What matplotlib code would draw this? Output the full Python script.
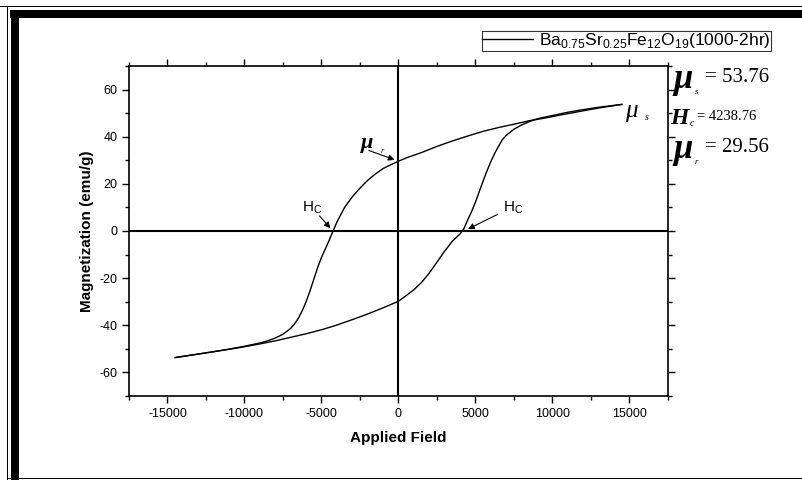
import matplotlib.pyplot as plt
from matplotlib.patches import Rectangle
from matplotlib.ticker import MultipleLocator

# upper branch: field sweeping down from +max
field_down = [14500, 13500, 12500, 11500, 10500, 9500, 8500, 7500, 6500, 5500,
              4500, 3500, 2500, 1500, 500, 0, -500, -1000, -1500, -2000,
              -2500, -3000, -3500, -4000, -4250, -4500, -4750, -5000, -5250, -5500,
              -5750, -6000, -6250, -6500, -6750, -7000, -7500, -8000, -8500, -9000,
              -10000, -11000, -12000, -13000, -14500]
mag_down = [53.7, 52.7, 51.6, 50.4, 49.2, 47.9, 46.8, 45.3, 43.9, 42.3,
            40.3, 38.2, 35.9, 33.3, 31.0, 29.6, 28.1, 26.5, 24.2, 21.5,
            18.2, 14.5, 10.0, 3.8, 0.0, -3.9, -7.6, -11.2, -15.5, -20.5,
            -25.5, -30.0, -33.8, -37.0, -39.4, -41.3, -43.8, -45.4, -46.6, -47.5,
            -48.9, -50.1, -51.2, -52.2, -53.7]

# lower branch: field sweeping up from -max
field_up = [-14500, -13000, -12000, -11000, -10000, -9000, -8000, -7000, -6000, -5000,
            -4000, -3000, -2000, -1000, 0, 500, 1000, 1500, 2000, 2500,
            3000, 3500, 4000, 4250, 4500, 4750, 5000, 5250, 5500, 5750,
            6000, 6250, 6500, 6750, 7000, 7500, 8000, 8500, 9000, 10000,
            11000, 12000, 13000, 14500]
mag_up = [-53.7, -52.2, -51.2, -50.2, -49.1, -47.9, -46.6, -45.1, -43.6, -41.9,
          -39.9, -37.6, -35.2, -32.6, -29.8, -27.4, -24.9, -21.8, -17.8, -13.2,
          -8.5, -4.3, -1.2, 1.0, 4.8, 8.3, 12.3, 16.8, 21.3, 25.6,
          29.5, 33.0, 36.0, 38.8, 40.6, 43.2, 45.0, 46.4, 47.6, 49.0,
          50.4, 51.5, 52.5, 53.7]

legend_label = r"Ba$_{0.75}$Sr$_{0.25}$Fe$_{12}$O$_{19}$(1000-2hr)"
ms_value = "= 53.76"
hc_value = "= 4238.76"
mr_value = "= 29.56"

plt.rcParams["font.family"] = ["Liberation Sans", "DejaVu Sans"]
plt.rcParams["mathtext.fontset"] = "custom"
plt.rcParams["mathtext.rm"] = "Liberation Sans"
plt.rcParams["axes.unicode_minus"] = False

W, H = 803, 480
fig = plt.figure(figsize=(W / 100, H / 100), dpi=100)


def fx(x):
    return x / W


def fy(y):
    return 1 - y / H


# page frame
for x0, y0, w, h in [(0, 6, W, 1.3), (10, 10, W - 10, 7.5), (7, 6, 1.3, H - 6),
                     (11, 10, 8, H - 10), (7, 477.5, W - 7, 1.5)]:
    fig.add_artist(Rectangle((fx(x0), fy(y0 + h)), w / W, h / H,
                             transform=fig.transFigure, color="black", lw=0))

ax = fig.add_axes([fx(129), fy(396), (668 - 129) / W, (396 - 66) / H])
ax.plot(field_down, mag_down, color="black", lw=1.0, label=legend_label)
ax.plot(field_up, mag_up, color="black", lw=1.0)
ax.axhline(0, color="black", lw=1.5)
ax.axvline(0, color="black", lw=1.5)

ax.set_xlim(-17500, 17500)
ax.set_ylim(-70, 70)
ax.xaxis.set_major_locator(MultipleLocator(5000))
ax.xaxis.set_minor_locator(MultipleLocator(2500))
ax.yaxis.set_major_locator(MultipleLocator(20))
ax.yaxis.set_minor_locator(MultipleLocator(10))
ax.tick_params(which="both", direction="out", top=True, right=True, width=1.0,
               labelsize=9)
ax.tick_params(which="major", length=5)
ax.tick_params(which="minor", length=3)
for s in ax.spines.values():
    s.set_linewidth(1.2)

ax.set_xlabel("Applied Field", fontsize=11, fontweight="bold", labelpad=8)
ax.set_ylabel("Magnetization (emu/g)", fontsize=11, fontweight="bold", labelpad=4)

leg = fig.legend(loc="center", bbox_to_anchor=(fx(626.5), fy(41)), fontsize=12.5,
                 frameon=True, fancybox=False, handlelength=2.9, borderpad=0.05,
                 handletextpad=0.35, borderaxespad=0)
leg.get_frame().set_edgecolor("black")
leg.get_frame().set_linewidth(0.8)

arrow = dict(arrowstyle="-|>", color="black", lw=0.8, mutation_scale=9)
ax.annotate("", xy=(-80, 29.8), xytext=(-2100, 34.6), arrowprops=arrow)
ax.annotate("", xy=(-4300, 0.3), xytext=(-5250, 7.3), arrowprops=arrow)
ax.annotate("", xy=(4350, 0.3), xytext=(6600, 7.6), arrowprops=arrow)
ax.text(-5600, 10.0, r"H$_\mathregular{C}$", fontsize=11, ha="center", va="center")
ax.text(7450, 10.0, r"H$_\mathregular{C}$", fontsize=11, ha="center", va="center")

serif = "Liberation Serif"
ax.text(-2450, 37.5, "μ", family=serif, style="italic", fontweight="bold",
        fontsize=16, ha="left", va="center")
ax.text(-1150, 33.8, "r", family=serif, style="italic", fontsize=6, ha="left", va="center")
ax.text(14700, 50.8, "μ", family=serif, style="italic", fontsize=18,
        ha="left", va="center")
ax.text(16000, 48.0, "s", family=serif, style="italic", fontsize=7, ha="left", va="center")

# parameter values to the right of the axes
fig.text(fx(673), fy(80), "μ", family=serif, style="italic", fontweight="bold",
         fontsize=25, ha="left", va="center")
fig.text(fx(695), fy(92), "s", family=serif, style="italic", fontsize=6, ha="left", va="center")
fig.text(fx(705), fy(78), ms_value, family=serif, fontsize=15, ha="left", va="center")

fig.text(fx(670), fy(118), "H", family=serif, style="italic", fontweight="bold",
         fontsize=17, ha="left", va="center")
fig.text(fx(690), fy(123), "c", family=serif, style="italic", fontsize=7, ha="left", va="center")
fig.text(fx(697), fy(116), hc_value, family=serif, fontsize=10.5, ha="left", va="center")

fig.text(fx(673), fy(150), "μ", family=serif, style="italic", fontweight="bold",
         fontsize=25, ha="left", va="center")
fig.text(fx(695), fy(162), "r", family=serif, style="italic", fontsize=6, ha="left", va="center")
fig.text(fx(705), fy(147), mr_value, family=serif, fontsize=15, ha="left", va="center")

fig.savefig("out.png", dpi=100)
